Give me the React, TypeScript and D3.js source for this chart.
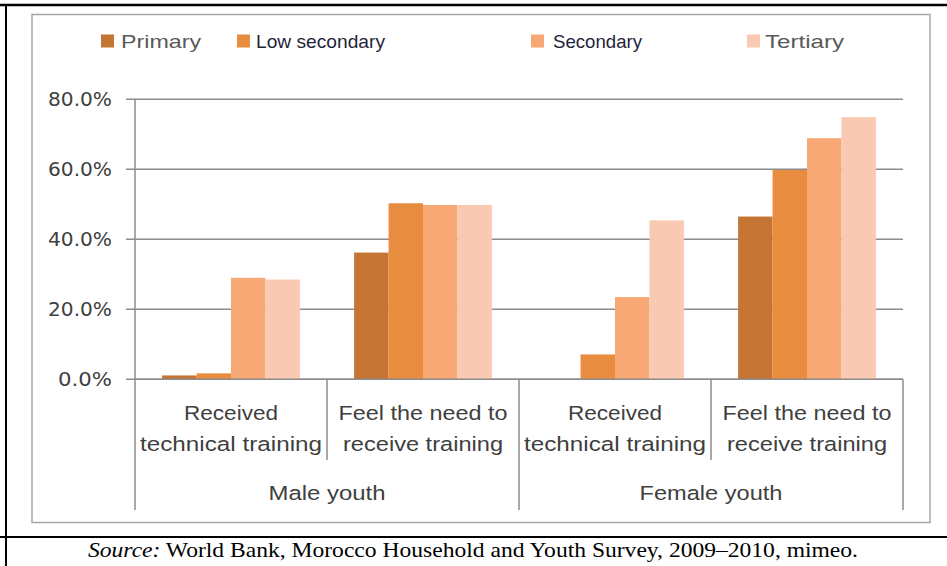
import React from "react";
import * as d3 from "d3";

const categories = ["Male youth|Received", "Male youth|Feel", "Female youth|Received", "Female youth|Feel"];
const subLabels: string[][] = [
  ["Received", "technical training"],
  ["Feel the need to", "receive training"],
  ["Received", "technical training"],
  ["Feel the need to", "receive training"],
];
const groups = ["Male youth", "Female youth"];
const series = ["Primary", "Low secondary", "Secondary", "Tertiary"];
const primary = [1.1, 36.2, 0, 46.5];
const lowSecondary = [1.7, 50.3, 7.1, 59.8];
const secondary = [29.0, 49.8, 23.5, 68.9];
const tertiary = [28.5, 49.8, 45.4, 74.9];
const yTicks = [0, 20, 40, 60, 80];
const colors = ["#C47533", "#E88C40", "#F7A874", "#F9C9B2"];
const sourceText = " World Bank, Morocco Household and Youth Survey, 2009\u20132010, mimeo.";

const W = 947;
const H = 566;
const plotL = 135;
const plotR = 903;
const plotT = 99.3;
const plotB = 379.3;

export default function App() {
  const values = [primary, lowSecondary, secondary, tertiary];
  const x0 = d3.scaleBand<string>().domain(categories).range([plotL, plotR]).paddingInner(0).paddingOuter(0);
  const x1 = d3.scaleBand<string>().domain(series).range([0, x0.bandwidth()]).paddingInner(0).paddingOuter(0.786);
  const y = d3.scaleLinear().domain([0, 80]).range([plotB, plotT]);
  const gx = d3.scaleBand<string>().domain(groups).range([plotL, plotR]);

  const gridColor = "#8C8C8C";
  const textColor = "#404040";
  const legendPos = [
    { sq: 101, tx: 121, w: 80, c: "#595959" },
    { sq: 237, tx: 256, w: 129, c: "#1F1F3A" },
    { sq: 531, tx: 553, w: 89, c: "#1F1F3A" },
    { sq: 747, tx: 765, w: 79, c: "#595959" },
  ];

  return (
    <svg width={W} height={H} style={{ position: "fixed", left: 0, top: 0, background: "#fff" }}>
      {/* outer page frame */}
      <line x1={0} x2={W} y1={5} y2={5} stroke="#000" strokeWidth={2.5} />
      <line x1={6} x2={6} y1={4} y2={H} stroke="#000" strokeWidth={2} />
      <line x1={0} x2={W} y1={537} y2={537} stroke="#000" strokeWidth={2} />
      {/* chart border */}
      <rect x={32} y={14.5} width={898} height={508} fill="#fff" stroke="#A6A6A6" strokeWidth={1.5} />

      {/* gridlines */}
      {yTicks.map((t) => (
        <g key={t}>
          <line x1={plotL - 9} x2={plotR} y1={y(t)} y2={y(t)} stroke={gridColor} strokeWidth={1.5} />
          <text
            x={112}
            y={y(t)}
            dy="0.36em"
            textAnchor="end"
            fontFamily="DejaVu Sans"
            fontSize={19}
            fill={textColor}
            textLength={t === 0 ? 54 : 64}
            lengthAdjust="spacingAndGlyphs"
          >
            {d3.format(".1f")(t) + "%"}
          </text>
        </g>
      ))}
      {/* y axis */}
      <line x1={plotL} x2={plotL} y1={plotT} y2={plotB} stroke={gridColor} strokeWidth={1.5} />

      {/* bars */}
      {categories.map((c, ci) => (
        <g key={c} transform={`translate(${x0(c)},0)`}>
          {series.map((s, si) => {
            const v = values[si][ci];
            return (
              <rect
                key={s}
                x={x1(s)}
                y={y(v)}
                width={x1.bandwidth()}
                height={plotB - y(v)}
                fill={colors[si]}
              />
            );
          })}
        </g>
      ))}

      {/* x-axis */}
      <line x1={plotL} x2={plotR} y1={plotB} y2={plotB} stroke={gridColor} strokeWidth={1.5} />
      {categories.map((c, ci) => {
        const left = x0(c)!;
        const long = ci % 2 === 0;
        return (
          <line key={"d" + c} x1={left} x2={left} y1={plotB} y2={long ? 510 : 460} stroke={gridColor} strokeWidth={1.5} />
        );
      })}
      <line x1={plotR} x2={plotR} y1={plotB} y2={510} stroke={gridColor} strokeWidth={1.5} />

      {categories.map((c, ci) => {
        const cx = x0(c)! + x0.bandwidth() / 2;
        const [l1, l2] = subLabels[ci];
        const w1 = ci % 2 === 0 ? 94 : 169;
        const w2 = ci % 2 === 0 ? 182 : 160;
        return (
          <g key={"l" + c} fontFamily="Liberation Sans" fontSize={20.5} fill={textColor} textAnchor="middle">
            <text x={cx} y={420} textLength={w1} lengthAdjust="spacingAndGlyphs">{l1}</text>
            <text x={cx} y={451} textLength={w2} lengthAdjust="spacingAndGlyphs">{l2}</text>
          </g>
        );
      })}
      {groups.map((g) => (
        <text
          key={g}
          x={gx(g)! + gx.bandwidth() / 2}
          y={500}
          textAnchor="middle"
          fontFamily="Liberation Sans"
          fontSize={20.5}
          fill={textColor}
          textLength={g === "Male youth" ? 117 : 143}
          lengthAdjust="spacingAndGlyphs"
        >
          {g}
        </text>
      ))}

      {/* legend */}
      {series.map((s, si) => (
        <g key={"lg" + s}>
          <rect x={legendPos[si].sq} y={34.5} width={13} height={13} fill={colors[si]} />
          <text
            x={legendPos[si].tx}
            y={48}
            fontFamily="Liberation Sans"
            fontSize={19}
            fill={legendPos[si].c}
            textLength={legendPos[si].w}
            lengthAdjust="spacingAndGlyphs"
          >
            {s}
          </text>
        </g>
      ))}

      {/* source */}
      <text
        x={473}
        y={557}
        textAnchor="middle"
        fontFamily="Liberation Serif"
        fontSize={21.5}
        fill="#000"
        textLength={770}
        lengthAdjust="spacingAndGlyphs"
      >
        <tspan fontStyle="italic">Source:</tspan>
        {sourceText}
      </text>
    </svg>
  );
}
